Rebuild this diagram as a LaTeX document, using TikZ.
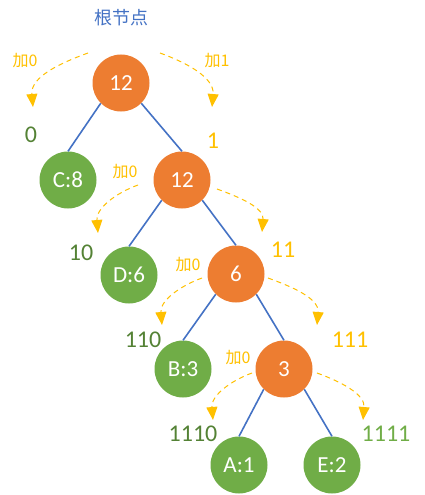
\documentclass[tikz,border=0pt]{standalone}
\usepackage{fontspec}
\setmainfont{Carlito}
\newfontfamily\cjk{Noto Sans CJK SC}
\usetikzlibrary{arrows.meta}
\definecolor{inner}{HTML}{ED7D31}
\definecolor{leafc}{HTML}{70AD47}
\definecolor{edgeblue}{HTML}{4472C4}
\definecolor{hintc}{HTML}{FFC000}
\definecolor{codegreen}{HTML}{548235}
\tikzset{
  every picture/.style={x=1pt,y=1pt},
  vertex/.style={circle,minimum size=57pt,inner sep=0pt,text=white,font=\fontsize{23}{23}\selectfont},
  innernode/.style={vertex,fill=inner},
  leafnode/.style={vertex,fill=leafc},
  branch/.style={draw=edgeblue,line width=1.6pt},
  hint/.style={draw=hintc,line width=1pt,dashed,dash pattern=on 5pt off 4pt,-{Triangle[length=13pt,width=11pt]}},
  hinttext/.style={text=hintc,font=\cjk\fontsize{16}{16}\selectfont,inner sep=0pt},
  code/.style={font=\fontsize{24}{24}\selectfont,inner sep=0pt},
}
\begin{document}
\begin{tikzpicture}
\useasboundingbox (0,0) rectangle (425,-495);

% title
\node[text=edgeblue,font=\cjk\fontsize{18}{18}\selectfont] (title) at (121,-18) {根节点};

% tree nodes
\node[innernode] (r)  at (121,-83)  {12};
\node[leafnode]  (c)  at (68,-180)  {C:8};
\node[innernode] (n1) at (182,-180) {12};
\node[leafnode]  (d)  at (129,-275) {D:6};
\node[innernode] (n2) at (236,-274) {6};
\node[leafnode]  (b)  at (183,-369) {B:3};
\node[innernode] (n3) at (284,-369) {3};
\node[leafnode]  (a)  at (239,-465) {A:1};
\node[leafnode]  (e)  at (332,-465) {E:2};

% branches
\draw[branch] (r.-135) -- (c.north);
\draw[branch] (r.-45) -- (n1.north);
\draw[branch] (n1.-135) -- (d.north);
\draw[branch] (n1.-45) -- (n2.north);
\draw[branch] (n2.-135) -- (b.north);
\draw[branch] (n2.-45) -- (n3.north);
\draw[branch] (n3.-135) -- (a.north);
\draw[branch] (n3.-45) -- (e.north);

% dashed hint arcs
\coordinate (s1) at (88,-53);   \coordinate (t1) at (33,-107);
\coordinate (s2) at (160,-53);  \coordinate (t2) at (212,-107);
\coordinate (s3) at (138,-185); \coordinate (t3) at (98,-233);
\coordinate (s4) at (217,-189); \coordinate (t4) at (262,-232);
\coordinate (s5) at (202,-278); \coordinate (t5) at (162,-325);
\coordinate (s6) at (268,-278); \coordinate (t6) at (317,-325);
\coordinate (s7) at (252,-373); \coordinate (t7) at (213,-420);
\coordinate (s8) at (317,-373); \coordinate (t8) at (363,-420);
\draw[hint] (s1) to[out=200,in=95] (t1);
\draw[hint] (s2) to[out=-20,in=85] (t2);
\draw[hint] (s3) to[out=200,in=95] (t3);
\draw[hint] (s4) to[out=-20,in=85] (t4);
\draw[hint] (s5) to[out=200,in=95] (t5);
\draw[hint] (s6) to[out=-20,in=85] (t6);
\draw[hint] (s7) to[out=200,in=95] (t7);
\draw[hint] (s8) to[out=-20,in=85] (t8);

% hint labels
\node[hinttext] (h1) at (25,-61)   {加0};
\node[hinttext] (h2) at (217,-61)  {加1};
\node[hinttext] (h3) at (125,-172) {加0};
\node[hinttext] (h4) at (188,-265) {加0};
\node[hinttext] (h5) at (238,-358) {加0};

% code labels
\node[code,text=codegreen] (k0)    at (31,-135)  {0};
\node[code,text=hintc]     (k1)    at (213,-141) {1};
\node[code,text=codegreen] (k10)   at (81,-253)  {10};
\node[code,text=hintc]     (k11)   at (283,-250) {11};
\node[code,text=codegreen] (k110)  at (143,-340) {110};
\node[code,text=hintc]     (k111)  at (350,-340) {111};
\node[code,text=codegreen] (k1110) at (193,-434) {1110};
\node[code,text=leafc]     (k1111) at (386,-434) {1111};
\end{tikzpicture}
\end{document}
